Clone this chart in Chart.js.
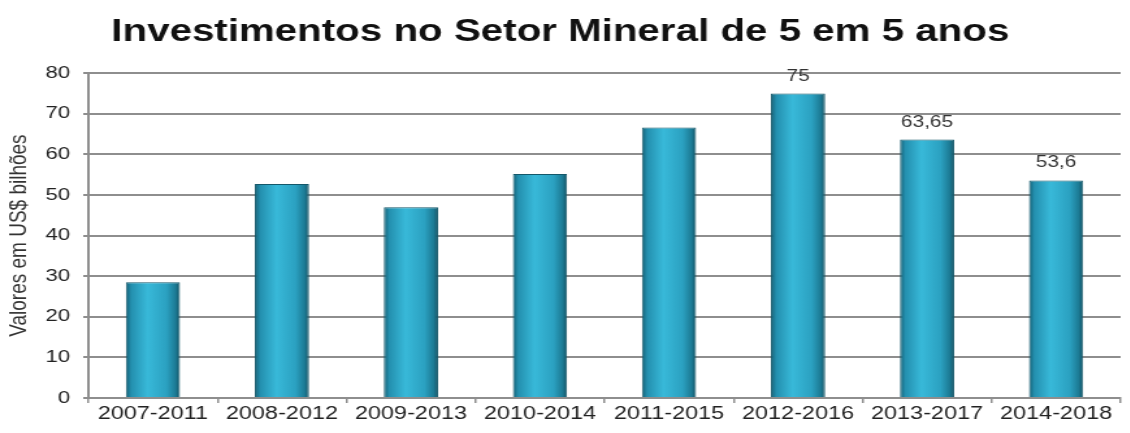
<!DOCTYPE html>
<html><head>
<meta charset="UTF-8">
<title>Investimentos no Setor Mineral</title>
<style>
  body { margin: 0; padding: 0; background: white; overflow: hidden; }
  /* the source picture is stretched sideways, so the chart is drawn narrow and widened */
  #wrap { width: 869px; height: 433px; transform: scaleX(1.3); transform-origin: 0 0; }
</style>
<script src="https://cdn.jsdelivr.net/npm/chart.js"></script>
</head>
<body>
<div id="wrap"><canvas id="chart" width="869" height="433"></canvas></div>
<script>
  var periods = ['2007-2011', '2008-2012', '2009-2013', '2010-2014', '2011-2015', '2012-2016', '2013-2017', '2014-2018'];
  var investments = [28.5, 52.7, 47, 55.2, 66.6, 75, 63.65, 53.6];
  // only the last three bars carry a label in the original
  var valueLabels = [null, null, null, null, null, '75', '63,65', '53,6'];

  var FONT = '"Liberation Sans", Arial, sans-serif';

  function barGradient(ctx) {
    var chart = ctx.chart;
    var xs = chart.scales && chart.scales.x;
    if (!chart.chartArea || !xs || ctx.dataIndex === undefined) return '#2aa6c6';
    var cx = xs.getPixelForValue(ctx.dataIndex);
    var w = chart.chartArea.width / periods.length * 0.42;
    var g = chart.ctx.createLinearGradient(cx - w / 2, 0, cx + w / 2, 0);
    g.addColorStop(0, '#135f74');
    g.addColorStop(0.1, '#2490af');
    g.addColorStop(0.4, '#38b9d9');
    g.addColorStop(0.75, '#2ba1c1');
    g.addColorStop(0.92, '#1c7a94');
    g.addColorStop(1, '#124f60');
    return g;
  }

  var labelPlugin = {
    id: 'valueLabels',
    afterDatasetsDraw: function(chart) {
      var ctx = chart.ctx;
      var meta = chart.getDatasetMeta(0);
      ctx.save();
      ctx.font = '16px ' + FONT;
      ctx.fillStyle = '#333';
      ctx.textAlign = 'center';
      ctx.textBaseline = 'alphabetic';
      meta.data.forEach(function(bar, i) {
        if (valueLabels[i]) ctx.fillText(valueLabels[i], bar.x, bar.y - 13);
      });
      ctx.restore();
    }
  };

  new Chart(document.getElementById('chart').getContext('2d'), {
    type: 'bar',
    data: {
      labels: periods,
      datasets: [{
        data: investments,
        backgroundColor: barGradient,
        borderColor: '#14586a',
        borderWidth: 1,
        barPercentage: 0.42,
        categoryPercentage: 1
      }]
    },
    options: {
      responsive: false,
      animation: false,
      layout: { padding: { left: 0, right: 7, top: 0, bottom: 0 } },
      plugins: {
        legend: { display: false },
        tooltip: { enabled: false },
        title: {
          display: true,
          text: 'Investimentos no Setor Mineral de 5 em 5 anos',
          color: '#111',
          font: { family: FONT, size: 31, weight: 'bold' },
          padding: { top: 14, bottom: 22 }
        }
      },
      scales: {
        x: {
          afterFit: function(s) { s.height = 35; },
          grid: { drawOnChartArea: false, color: '#8e8e8e', lineWidth: 1.5, tickLength: 5 },
          border: { color: '#8e8e8e', width: 2 },
          ticks: { color: '#222', font: { family: FONT, size: 18 }, padding: 0 }
        },
        y: {
          min: 0,
          max: 80,
          afterFit: function(s) { s.width = 68; },
          ticks: { stepSize: 10, color: '#222', font: { family: FONT, size: 17 }, padding: 10 },
          grid: { color: '#8e8e8e', lineWidth: 2, tickLength: 4 },
          border: { color: '#8e8e8e', width: 2 },
          title: {
            display: true,
            text: 'Valores em US$ bilhões',
            color: '#333',
            font: { family: FONT, size: 19 },
            padding: 3
          }
        }
      }
    },
    plugins: [labelPlugin]
  });
</script>
</body>
</html>
